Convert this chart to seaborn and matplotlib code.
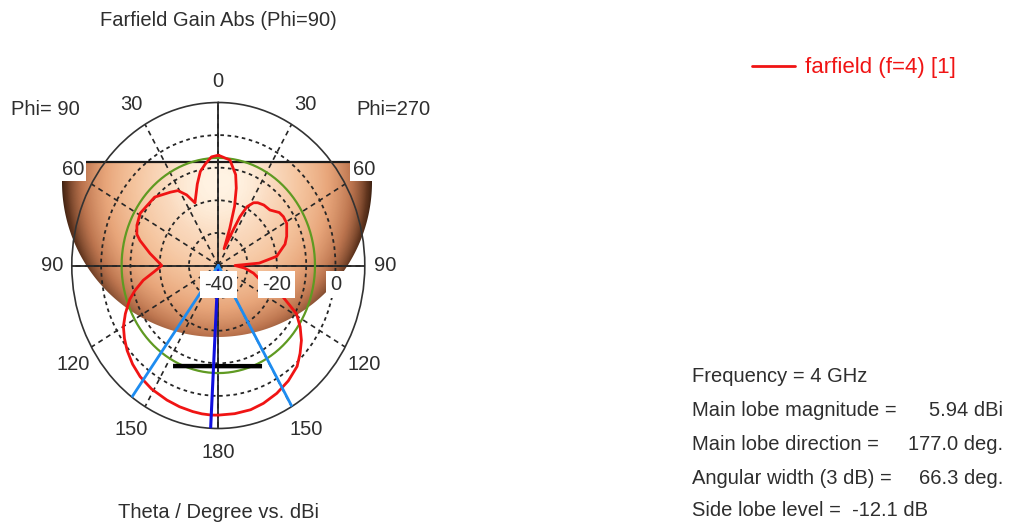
import numpy as np
import pandas as pd
import matplotlib
matplotlib.use("Agg")
import matplotlib.pyplot as plt
import seaborn as sns
from matplotlib.colors import LinearSegmentedColormap
from matplotlib.patches import Polygon

sns.set_theme(style="white")
plt.rcParams["font.family"] = ["Liberation Sans", "DejaVu Sans"]

W, H = 1014, 531
TEXT = "#2e2e2e"

# ---- farfield cut: gain (dBi) over theta, Phi=90 half and Phi=270 half ----
theta_phi90 = [0, 4, 8, 12, 16, 22.5, 26.5, 31, 36, 46, 59, 66, 71, 74, 81,
               90, 95, 100, 105, 109, 115, 120, 125, 130, 136, 142, 149, 157,
               163, 169, 173, 177, 180]
gain_phi90 = [-6.16, -6.6, -8.5, -10.5, -14.0, -19.2, -15.8, -13.2, -12.2,
              -9.8, -8.9, -9.6, -10.6, -12.2, -16.4, -20.7, -18.0, -14.0,
              -10.6, -8.0, -5.0, -2.6, -0.9, 0.6, 2.1, 3.3, 4.2, 4.85,
              5.3, 5.65, 5.85, 5.94, 5.9]

theta_phi270 = [180, 173, 166, 160, 153, 146, 139, 134, 129, 124, 119, 112,
                107, 101, 95, 90, 87, 82, 74, 69, 61, 56, 52, 46, 40, 35, 32,
                28.5, 26.3, 25, 21, 19, 17, 14.5, 12, 7, 0]
gain_phi270 = [5.9, 5.8, 5.6, 5.0, 4.0, 2.7, 1.0, -1.2, -3.5, -6.3, -9.5,
               -17.3, -25.1, -27.8, -31.0, -34.3, -26.0, -19.9, -16.3, -15.0,
               -13.3, -13.2, -13.6, -15.5, -15.8, -16.5, -17.3, -19.5, -23.3,
               -28.0, -34.5, -28.0, -21.0, -15.5, -11.5, -7.4, -6.16]

# ---- scales and annotations ----
r_min, r_max = -40, 10
r_grid = [-30, -20, -10, 0]
r_label_values = [-40, -20, 0]
theta_ticks = [0, 30, 60, 90, 120, 150, 180, 210, 240, 270, 300, 330]
theta_tick_labels = ["0", "30", "60", "90", "120", "150", "180",
                     "150", "120", "90", "60", "30"]

frequency_ghz = 4
main_lobe_mag = 5.94
main_lobe_dir = 177.0
beamwidth_3db = 66.3
side_lobe_level = -12.1
level_circle_db = -7.0
sll_bar_pos = [153.4, 205.8]
sll_bar_gain = [-5.5, -5.7]

# position around the plot: Phi=90 half on the left, Phi=270 half on the right
pos_deg = list(theta_phi90) + [360 - t for t in theta_phi270]
gain_all = list(gain_phi90) + list(gain_phi270)
df = pd.DataFrame({"pos": np.deg2rad(pos_deg), "gain": gain_all})

fig = plt.figure(figsize=(W / 100, H / 100), dpi=100)

# ---- shaded hemisphere behind the polar grid ----
bg = fig.add_axes([0, 0, 1, 1])
bg.set_xlim(0, W)
bg.set_ylim(H, 0)
bg.axis("off")

cx, cy, rad, cut_y = 217, 182, 155, 162
x0, x1, y0, y1 = 55, 380, 155, 345
X, Y = np.meshgrid(np.arange(x0, x1) + 0.5, np.arange(y0, y1) + 0.5)
nx = (X - cx) / rad
ny = (Y - cy) / rad
depth = np.sqrt(np.clip(1 - nx ** 2 - (0.88 * ny) ** 2, 0, 1))
hl = np.exp(-(((X - 222) / 40) ** 2 + ((Y - 180) / 32) ** 2))
shade = LinearSegmentedColormap.from_list(
    "shade",
    [(0.0, (0.18, 0.09, 0.04)), (0.25, (0.38, 0.21, 0.12)),
     (0.5, (0.74, 0.46, 0.31)), (0.7, (0.91, 0.65, 0.48)),
     (0.85, (0.96, 0.77, 0.62)), (0.95, (0.98, 0.85, 0.74)),
     (1.0, (1.0, 0.93, 0.85))])
img = shade(depth)[..., :3] * (1 - 0.6 * hl[..., None]) + 0.6 * hl[..., None] * np.array([1.0, 0.97, 0.92])
img = np.clip(img, 0, 1)

a0 = np.arcsin((cut_y - cy) / rad)
arc = np.linspace(a0, np.pi - a0, 200)
bowl = Polygon(np.column_stack([cx + rad * np.cos(arc), cy + rad * np.sin(arc)]),
               closed=True, facecolor="none", edgecolor="none",
               transform=bg.transData)
bg.add_patch(bowl)
im = bg.imshow(img, extent=(x0, x1, y1, y0), origin="upper", zorder=1)
im.set_clip_path(bowl)
chord = rad * np.cos(a0)
bg.plot([cx - chord, cx + chord], [cut_y, cut_y], color="#1a1a1a", lw=1.6, zorder=2)

# ---- polar diagram ----
pcx, pcy, prx, pry = 218.3, 265.5, 146.5, 163.0
ax = fig.add_axes([(pcx - prx) / W, (H - pcy - pry) / H, 2 * prx / W, 2 * pry / H],
                  projection="polar")
ax.set_aspect("auto")
ax.patch.set_alpha(0)
ax.set_theta_zero_location("N")
ax.set_theta_direction(1)
ax.set_ylim(r_min, r_max)
ax.set_rgrids(r_grid, labels=[""] * len(r_grid))
ax.set_thetagrids(theta_ticks, labels=[""] * len(theta_ticks))
ax.xaxis.grid(True, color="#262626", linestyle=(0, (3, 2.5)), lw=1.2)
ax.yaxis.grid(True, color="#262626", linestyle=(0, (2, 2)), lw=1.3)
ax.spines["polar"].set_color("#333333")
ax.spines["polar"].set_linewidth(1.2)

# solid cross through the centre
for a in (0, 90):
    ax.plot(np.deg2rad([a, a + 180]), [r_max, r_max], color="#262626", lw=1.3, zorder=3)

# reference level circle
ring = np.deg2rad(np.arange(0, 361, 1))
ax.plot(ring, np.full(ring.shape, level_circle_db), color="#5f9a22", lw=1.6, zorder=4)

# side lobe bar
ax.plot(np.deg2rad(sll_bar_pos), sll_bar_gain, color="black", lw=3.2, zorder=4,
        solid_capstyle="butt")

# pattern
sns.lineplot(data=df, x="pos", y="gain", sort=False, estimator=None,
             color="#f01414", lw=2.0, ax=ax, label="farfield (f=4) [1]", zorder=6)
ax.set_xlabel("")
ax.set_ylabel("")

# main lobe direction and 3 dB beamwidth
ax.plot(np.deg2rad([main_lobe_dir, main_lobe_dir]), [r_min, r_max],
        color="#1010e0", lw=2.2, zorder=7)
for edge in (main_lobe_dir - beamwidth_3db / 2, main_lobe_dir + beamwidth_3db / 2):
    ax.plot(np.deg2rad([edge, edge]), [r_min, r_max], color="#1e8cf0", lw=2.0, zorder=7)

# angle labels around the rim
for t, lab in zip(theta_ticks, theta_tick_labels):
    s, c = np.sin(np.deg2rad(t)), np.cos(np.deg2rad(t))
    dx = -20 * np.sign(s) * np.sqrt(abs(s))
    dy = 21 * np.sign(c) * np.sqrt(abs(c)) - (3 if c < -0.1 else 0)
    ax.annotate(lab, xy=(np.deg2rad(t), r_max), xytext=(dx * 0.72, dy * 0.72),
                textcoords="offset points", ha="center", va="center",
                fontsize=14.5, color=TEXT, annotation_clip=False, zorder=8,
                bbox=dict(boxstyle="square,pad=0.12", fc="white", ec="none"))

# radial scale labels
for v in r_label_values:
    ax.annotate(f"{v}", xy=(np.deg2rad(270), v), xytext=(0, -13.5),
                textcoords="offset points", ha="center", va="center",
                fontsize=14.5, color=TEXT, zorder=8,
                bbox=dict(boxstyle="square,pad=0.2", fc="white", ec="none"))

# legend
handles, labels = ax.get_legend_handles_labels()
if ax.get_legend() is not None:
    ax.get_legend().remove()
fig.legend(handles, labels, loc="center left", bbox_to_anchor=(752 / W, 1 - 68 / H),
           frameon=False, handlelength=1.95, handletextpad=0.45, borderpad=0,
           borderaxespad=0, labelcolor="linecolor", fontsize=16)

# titles
fig.text(218 / W, 1 - 20 / H, "Farfield Gain Abs (Phi=90)", ha="center", va="center",
         fontsize=14.5, color=TEXT)
fig.text(218 / W, 1 - 513 / H, "Theta / Degree vs. dBi", ha="center", va="center",
         fontsize=14.5, color=TEXT)
fig.text(45 / W, 1 - 110 / H, "Phi= 90", ha="center", va="center", fontsize=14.5, color=TEXT)
fig.text(393 / W, 1 - 110 / H, "Phi=270", ha="center", va="center", fontsize=14.5, color=TEXT)

# result summary
lx, rx_ = 692 / W, 1003 / W
rows = [(376, f"Frequency = {frequency_ghz} GHz", None),
        (410, "Main lobe magnitude =", f"{main_lobe_mag:.2f} dBi"),
        (444, "Main lobe direction =", f"{main_lobe_dir:.1f} deg."),
        (478, "Angular width (3 dB) =", f"{beamwidth_3db:.1f} deg."),
        (511, f"Side lobe level =  {side_lobe_level:.1f} dB", None)]
for y, left, right in rows:
    fig.text(lx, 1 - y / H, left, ha="left", va="center", fontsize=14.5, color=TEXT)
    if right:
        fig.text(rx_, 1 - y / H, right, ha="right", va="center", fontsize=14.5, color=TEXT)

fig.savefig("out.png", dpi=100)
